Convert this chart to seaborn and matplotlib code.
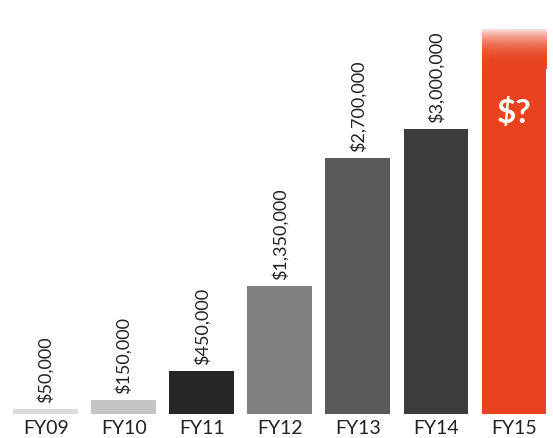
import numpy as np
import pandas as pd
import matplotlib
matplotlib.use("Agg")
import matplotlib.pyplot as plt
import seaborn as sns

years = ["FY09", "FY10", "FY11", "FY12", "FY13", "FY14", "FY15"]
values = [50000, 150000, 450000, 1350000, 2700000, 3000000, 4050000]
labels = ["$50,000", "$150,000", "$450,000", "$1,350,000", "$2,700,000", "$3,000,000", "$?"]
colors = ["#dcdcdc", "#c4c4c4", "#262626", "#808080", "#5a5a5a", "#3c3c3c", "#e8431e"]

sns.set_theme(style="white")
plt.rcParams["font.family"] = ["Lato", "DejaVu Sans"]

df = pd.DataFrame({"year": years, "value": values})
fig = plt.figure(figsize=(5.53, 4.39), dpi=100)
ax = fig.add_axes([0.012, 0.055, 0.988, 0.945])
sns.barplot(data=df, x="year", y="value", hue="year", palette=colors,
            legend=False, width=0.83, ax=ax, saturation=1, linewidth=0)
ax.set_ylim(0, 4.37e6)
ax.set_xlim(-0.5, 6.5)
sns.despine(ax=ax, left=True, bottom=True)
ax.set_yticks([])
ax.set_xlabel("")
ax.set_ylabel("")
ax.tick_params(axis="x", length=0, pad=4, labelsize=14, colors="#222222")

bars = ax.patches
for i, (b, lab) in enumerate(zip(bars, labels)):
    x = b.get_x() + b.get_width() / 2
    h = b.get_height()
    if i < len(labels) - 1:
        ax.annotate(lab, (x, h), xytext=(0, 5), textcoords="offset points",
                    rotation=90, ha="center", va="bottom", fontsize=13,
                    color="#222222")
    else:
        # gradient fade at the top of the last bar
        top = h
        fade_h = 0.42e6
        n = 200
        rgb = np.array(matplotlib.colors.to_rgb(colors[-1]))
        img = np.ones((n, 1, 4))
        img[:, 0, :3] = rgb
        t = np.linspace(0, 1, n)
        img[:, 0, 3] = 0.15 + 0.85 * (1 - (1 - t) ** 2.5)
        b.set_height(top - fade_h + 0.02e6)
        ax.imshow(img, extent=[b.get_x(), b.get_x() + b.get_width(), top - fade_h, top],
                  aspect="auto", origin="upper", zorder=b.get_zorder() + 0.1,
                  interpolation="bilinear")
        ax.text(x, 3.18e6, lab, ha="center", va="center", color="white",
                fontsize=24, fontweight="bold", zorder=5)

ax.set_xlim(-0.5, 6.5)
ax.set_ylim(0, 4.37e6)
fig.savefig("out.png", dpi=100)
